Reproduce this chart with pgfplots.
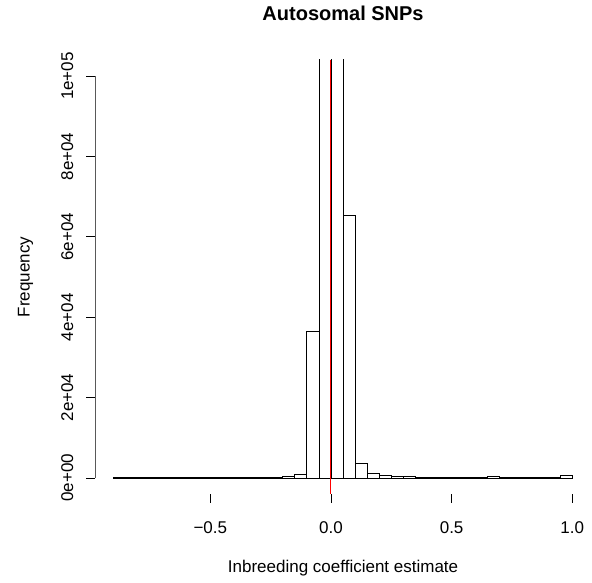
\documentclass[border=0pt]{standalone}
\usepackage{pgfplots}
\pgfplotsset{compat=1.18}
\usepackage{fontspec}
\setmainfont{Liberation Sans}
\pgfplotstableread{
x y
-0.90 30
-0.85 20
-0.80 30
-0.75 25
-0.70 30
-0.65 30
-0.60 40
-0.55 40
-0.50 45
-0.45 50
-0.40 60
-0.35 70
-0.30 90
-0.25 150
-0.20 300
-0.15 900
-0.10 36400
-0.05 250000
0.00 250000
0.05 65300
0.10 3600
0.15 1200
0.20 700
0.25 450
0.30 300
0.35 250
0.40 150
0.45 250
0.50 150
0.55 100
0.60 100
0.65 500
0.70 100
0.75 80
0.80 80
0.85 80
0.90 100
0.95 750
1.00 750
}\histdata
\begin{document}
\begin{tikzpicture}
\useasboundingbox (-95.5pt,-89pt) rectangle (496.5pt,494pt);
\begin{axis}[
  at={(0,0)}, anchor=south west,
  scale only axis, width=495.1pt, height=434pt,
  xmin=-0.976, xmax=1.076, ymin=-4000, ymax=104000,
  axis line style={draw=none},
  tick align=outside, xtick pos=bottom, ytick pos=left,
  major tick length=9pt,
  tick style={black, line width=0.8pt},
  xtick={-0.5,0,0.5,1}, xticklabels={−0.5,0.0,0.5,1.0},
  ytick={0,20000,40000,60000,80000,100000},
  yticklabels={0e+00,2e+04,4e+04,6e+04,8e+04,1e+05},
  scaled ticks=false,
  every tick label/.append style={font=\fontsize{17}{20}\selectfont},
  xticklabel style={anchor=north, inner sep=0pt, yshift=-18pt},
  yticklabel style={rotate=90, anchor=south, inner sep=0pt, yshift=13pt},
  title={Autosomal SNPs},
  title style={font=\bfseries\fontsize{20}{24}\selectfont, at={(0.5,1.0783)}, anchor=base, inner sep=0pt},
  xlabel={Inbreeding coefficient estimate},
  xlabel style={font=\fontsize{17}{20}\selectfont, at={(0.5,-0.182)}, anchor=base, inner sep=0pt},
  ylabel={Frequency},
  ylabel style={font=\fontsize{17}{20}\selectfont, at={(-0.1333,0.5)}, anchor=base, inner sep=0pt, rotate=0},
]
\addplot[ybar interval, draw=black, fill=white, line width=0.8pt] table {\histdata};
\draw[red, line width=1pt] (axis cs:0,-4000) -- (axis cs:0,104000);
\draw[black, line width=0.8pt] (axis cs:-0.5,-4000) -- (axis cs:1,-4000);
\draw[black, line width=0.8pt] (axis cs:-0.976,0) -- (axis cs:-0.976,100000);
\end{axis}
\end{tikzpicture}
\end{document}
